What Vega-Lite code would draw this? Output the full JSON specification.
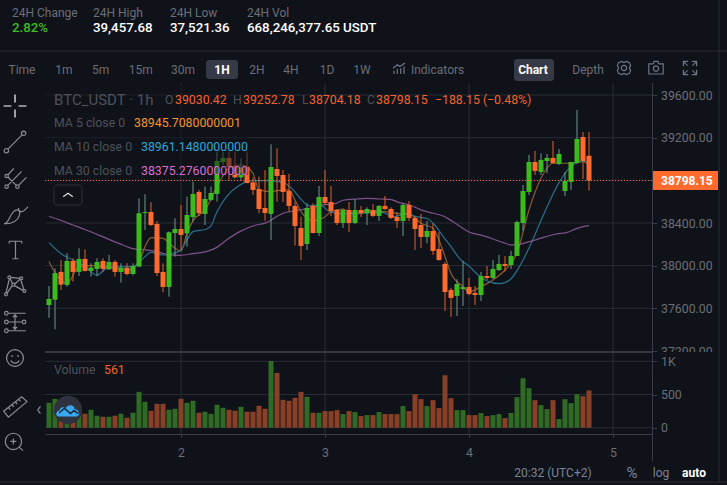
{
  "$schema": "https://vega.github.io/schema/vega-lite/v6.json",
  "width": 727,
  "height": 485,
  "padding": 0,
  "autosize": {"type": "none"},
  "background": "#0f1219",
  "config": {
    "view": {"stroke": null},
    "text": {"font": "Roboto"},
    "axis": {"labelFont": "Roboto", "labelFontSize": 12.3, "labelColor": "#6b6e78", "title": null, "grid": false, "labelOverlap": false, "labelBound": false, "labelFlush": false}
  },
  "datasets": {
    "candles": [
      {"hour":2,"dir":"up","open":37631,"close":37688,"high":37809,"low":37512,"volume":375},
      {"hour":3,"dir":"up","open":37681,"close":37931,"high":37975,"low":37403,"volume":435},
      {"hour":4,"dir":"down","open":37941,"close":37822,"high":38053,"low":37772,"volume":260},
      {"hour":5,"dir":"up","open":37819,"close":38044,"high":38116,"low":37803,"volume":280},
      {"hour":6,"dir":"down","open":38044,"close":37941,"high":38069,"low":37850,"volume":250},
      {"hour":7,"dir":"up","open":37941,"close":38063,"high":38163,"low":37903,"volume":240},
      {"hour":8,"dir":"down","open":38063,"close":37950,"high":38153,"low":37944,"volume":210},
      {"hour":9,"dir":"up","open":37950,"close":37981,"high":38022,"low":37897,"volume":270},
      {"hour":10,"dir":"up","open":37969,"close":38034,"high":38069,"low":37903,"volume":180},
      {"hour":11,"dir":"down","open":38044,"close":37969,"high":38069,"low":37944,"volume":165},
      {"hour":12,"dir":"up","open":37966,"close":38034,"high":38100,"low":37959,"volume":165},
      {"hour":13,"dir":"down","open":38034,"close":37941,"high":38053,"low":37897,"volume":180},
      {"hour":14,"dir":"up","open":37941,"close":37981,"high":38022,"low":37841,"volume":210},
      {"hour":15,"dir":"down","open":37981,"close":37922,"high":38022,"low":37909,"volume":150},
      {"hour":16,"dir":"up","open":37922,"close":37997,"high":38022,"low":37909,"volume":225},
      {"hour":17,"dir":"up","open":37991,"close":38491,"high":38631,"low":37991,"volume":540},
      {"hour":18,"dir":"up","open":38494,"close":38503,"high":38669,"low":38334,"volume":390},
      {"hour":19,"dir":"down","open":38503,"close":38381,"high":38597,"low":38372,"volume":255},
      {"hour":20,"dir":"down","open":38391,"close":37931,"high":38419,"low":37903,"volume":360},
      {"hour":21,"dir":"down","open":37941,"close":37800,"high":38022,"low":37750,"volume":360},
      {"hour":22,"dir":"up","open":37800,"close":38313,"high":38319,"low":37709,"volume":270},
      {"hour":23,"dir":"up","open":38306,"close":38344,"high":38444,"low":38084,"volume":285},
      {"hour":24,"dir":"down","open":38344,"close":38288,"high":38569,"low":38147,"volume":435},
      {"hour":25,"dir":"up","open":38303,"close":38475,"high":38647,"low":38178,"volume":375},
      {"hour":26,"dir":"up","open":38456,"close":38672,"high":38788,"low":38413,"volume":405},
      {"hour":27,"dir":"down","open":38691,"close":38491,"high":38710,"low":38466,"volume":225},
      {"hour":28,"dir":"up","open":38485,"close":38625,"high":38741,"low":38381,"volume":240},
      {"hour":29,"dir":"up","open":38616,"close":38681,"high":38741,"low":38606,"volume":210},
      {"hour":30,"dir":"up","open":38672,"close":38981,"high":39069,"low":38600,"volume":345},
      {"hour":31,"dir":"up","open":38972,"close":39010,"high":39069,"low":38944,"volume":300},
      {"hour":32,"dir":"down","open":39010,"close":38925,"high":39069,"low":38803,"volume":270},
      {"hour":33,"dir":"down","open":38935,"close":38828,"high":39069,"low":38819,"volume":255},
      {"hour":34,"dir":"up","open":38828,"close":38922,"high":39006,"low":38803,"volume":315},
      {"hour":35,"dir":"down","open":38928,"close":38775,"high":39069,"low":38772,"volume":240},
      {"hour":36,"dir":"down","open":38781,"close":38710,"high":38828,"low":38663,"volume":240},
      {"hour":37,"dir":"down","open":38719,"close":38531,"high":38835,"low":38491,"volume":330},
      {"hour":38,"dir":"down","open":38541,"close":38494,"high":38897,"low":38422,"volume":285},
      {"hour":39,"dir":"up","open":38485,"close":38925,"high":39138,"low":38241,"volume":1005},
      {"hour":40,"dir":"down","open":38906,"close":38841,"high":39100,"low":38600,"volume":825},
      {"hour":41,"dir":"down","open":38850,"close":38691,"high":38897,"low":38597,"volume":420},
      {"hour":42,"dir":"down","open":38700,"close":38560,"high":38860,"low":38506,"volume":405},
      {"hour":43,"dir":"down","open":38560,"close":38372,"high":38600,"low":38188,"volume":450},
      {"hour":44,"dir":"down","open":38353,"close":38184,"high":38459,"low":38053,"volume":540},
      {"hour":45,"dir":"up","open":38203,"close":38541,"high":38584,"low":38147,"volume":465},
      {"hour":46,"dir":"down","open":38560,"close":38306,"high":38584,"low":38303,"volume":225},
      {"hour":47,"dir":"up","open":38306,"close":38644,"high":38747,"low":38278,"volume":225},
      {"hour":48,"dir":"down","open":38644,"close":38588,"high":38897,"low":38569,"volume":250},
      {"hour":49,"dir":"down","open":38597,"close":38513,"high":38747,"low":38466,"volume":250},
      {"hour":50,"dir":"down","open":38522,"close":38400,"high":38528,"low":38381,"volume":265},
      {"hour":51,"dir":"up","open":38400,"close":38522,"high":38534,"low":38353,"volume":205},
      {"hour":52,"dir":"down","open":38522,"close":38400,"high":38597,"low":38316,"volume":250},
      {"hour":53,"dir":"up","open":38400,"close":38522,"high":38625,"low":38391,"volume":235},
      {"hour":54,"dir":"down","open":38522,"close":38491,"high":38560,"low":38456,"volume":175},
      {"hour":55,"dir":"up","open":38491,"close":38531,"high":38547,"low":38381,"volume":190},
      {"hour":56,"dir":"down","open":38522,"close":38466,"high":38578,"low":38456,"volume":190},
      {"hour":57,"dir":"up","open":38466,"close":38560,"high":38569,"low":38419,"volume":235},
      {"hour":58,"dir":"down","open":38560,"close":38531,"high":38653,"low":38522,"volume":205},
      {"hour":59,"dir":"down","open":38531,"close":38447,"high":38547,"low":38438,"volume":205},
      {"hour":60,"dir":"down","open":38456,"close":38419,"high":38503,"low":38353,"volume":205},
      {"hour":61,"dir":"up","open":38419,"close":38569,"high":38584,"low":38278,"volume":325},
      {"hour":62,"dir":"down","open":38569,"close":38447,"high":38606,"low":38419,"volume":250},
      {"hour":63,"dir":"down","open":38447,"close":38344,"high":38466,"low":38147,"volume":505},
      {"hour":64,"dir":"down","open":38381,"close":38269,"high":38485,"low":38166,"volume":430},
      {"hour":65,"dir":"up","open":38269,"close":38325,"high":38419,"low":38209,"volume":325},
      {"hour":66,"dir":"down","open":38325,"close":38138,"high":38397,"low":38100,"volume":415},
      {"hour":67,"dir":"down","open":38156,"close":38053,"high":38316,"low":38047,"volume":295},
      {"hour":68,"dir":"down","open":38016,"close":37753,"high":38034,"low":37575,"volume":790},
      {"hour":69,"dir":"down","open":37772,"close":37697,"high":37791,"low":37519,"volume":445},
      {"hour":70,"dir":"up","open":37716,"close":37828,"high":37872,"low":37528,"volume":265},
      {"hour":71,"dir":"up","open":37781,"close":37800,"high":38044,"low":37622,"volume":265},
      {"hour":72,"dir":"down","open":37800,"close":37734,"high":37884,"low":37722,"volume":190},
      {"hour":73,"dir":"down","open":37744,"close":37725,"high":37809,"low":37631,"volume":190},
      {"hour":74,"dir":"up","open":37725,"close":37903,"high":37941,"low":37669,"volume":220},
      {"hour":75,"dir":"down","open":37903,"close":37884,"high":37997,"low":37866,"volume":175},
      {"hour":76,"dir":"up","open":37884,"close":37969,"high":38053,"low":37875,"volume":190},
      {"hour":77,"dir":"up","open":37959,"close":38016,"high":38100,"low":37950,"volume":205},
      {"hour":78,"dir":"down","open":38016,"close":37997,"high":38091,"low":37944,"volume":145},
      {"hour":79,"dir":"up","open":38006,"close":38091,"high":38138,"low":37969,"volume":220},
      {"hour":80,"dir":"up","open":38091,"close":38409,"high":38422,"low":38091,"volume":460},
      {"hour":81,"dir":"up","open":38400,"close":38700,"high":38756,"low":38325,"volume":745},
      {"hour":82,"dir":"up","open":38691,"close":38972,"high":39038,"low":38663,"volume":595},
      {"hour":83,"dir":"down","open":38972,"close":38888,"high":39075,"low":38850,"volume":415},
      {"hour":84,"dir":"up","open":38878,"close":38991,"high":39053,"low":38850,"volume":340},
      {"hour":85,"dir":"up","open":38981,"close":39010,"high":39047,"low":38866,"volume":280},
      {"hour":86,"dir":"down","open":39010,"close":38963,"high":39169,"low":38953,"volume":415},
      {"hour":87,"dir":"up","open":38953,"close":39047,"high":39094,"low":38944,"volume":130},
      {"hour":88,"dir":"up","open":38700,"close":38794,"high":38878,"low":38653,"volume":430},
      {"hour":89,"dir":"up","open":38785,"close":38972,"high":38972,"low":38710,"volume":370},
      {"hour":90,"dir":"up","open":38963,"close":39188,"high":39460,"low":38953,"volume":505},
      {"hour":91,"dir":"down","open":39206,"close":38981,"high":39253,"low":38813,"volume":475},
      {"hour":92,"dir":"down","open":39030.42,"close":38798.15,"high":39252.78,"low":38704.18,"volume":561}
    ],
    "averages": [
      {"series":"MA 5","hour":2,"value":38038},{"series":"MA 5","hour":3,"value":37934},{"series":"MA 5","hour":5,"value":37834},{"series":"MA 5","hour":7,"value":37991},{"series":"MA 5","hour":9,"value":38000},{"series":"MA 5","hour":11,"value":37991},{"series":"MA 5","hour":13,"value":37975},{"series":"MA 5","hour":15,"value":37959},{"series":"MA 5","hour":17,"value":38038},{"series":"MA 5","hour":18,"value":38178},{"series":"MA 5","hour":19,"value":38263},{"series":"MA 5","hour":21,"value":38256},{"series":"MA 5","hour":23,"value":38163},{"series":"MA 5","hour":24,"value":38138},{"series":"MA 5","hour":25,"value":38303},{"series":"MA 5","hour":26,"value":38422},{"series":"MA 5","hour":28,"value":38522},{"series":"MA 5","hour":30,"value":38741},{"series":"MA 5","hour":32,"value":38913},{"series":"MA 5","hour":34,"value":38944},{"series":"MA 5","hour":36,"value":38866},{"series":"MA 5","hour":37,"value":38710},{"series":"MA 5","hour":39,"value":38694},{"series":"MA 5","hour":40,"value":38703},{"series":"MA 5","hour":42,"value":38710},{"series":"MA 5","hour":43,"value":38616},{"series":"MA 5","hour":44,"value":38506},{"series":"MA 5","hour":45,"value":38444},{"series":"MA 5","hour":46,"value":38422},{"series":"MA 5","hour":48,"value":38459},{"series":"MA 5","hour":49,"value":38506},{"series":"MA 5","hour":51,"value":38531},{"series":"MA 5","hour":53,"value":38485},{"series":"MA 5","hour":55,"value":38516},{"series":"MA 5","hour":58,"value":38506},{"series":"MA 5","hour":60,"value":38491},{"series":"MA 5","hour":62,"value":38485},{"series":"MA 5","hour":64,"value":38397},{"series":"MA 5","hour":66,"value":38350},{"series":"MA 5","hour":67,"value":38241},{"series":"MA 5","hour":68,"value":38084},{"series":"MA 5","hour":69,"value":37928},{"series":"MA 5","hour":71,"value":37803},{"series":"MA 5","hour":72,"value":37756},{"series":"MA 5","hour":74,"value":37803},{"series":"MA 5","hour":76,"value":37866},{"series":"MA 5","hour":78,"value":37959},{"series":"MA 5","hour":80,"value":38116},{"series":"MA 5","hour":82,"value":38522},{"series":"MA 5","hour":84,"value":38819},{"series":"MA 5","hour":86,"value":38960},{"series":"MA 5","hour":88,"value":38960},{"series":"MA 5","hour":90,"value":38966},{"series":"MA 5","hour":91,"value":38975},{"series":"MA 5","hour":92,"value":38945.71},
      {"series":"MA 10","hour":2,"value":38216},{"series":"MA 10","hour":4.1,"value":38109},{"series":"MA 10","hour":6,"value":38053},{"series":"MA 10","hour":8,"value":37991},{"series":"MA 10","hour":10,"value":37909},{"series":"MA 10","hour":11.6,"value":37975},{"series":"MA 10","hour":14,"value":37991},{"series":"MA 10","hour":16,"value":37991},{"series":"MA 10","hour":17.7,"value":38069},{"series":"MA 10","hour":19,"value":38125},{"series":"MA 10","hour":21,"value":38100},{"series":"MA 10","hour":22.7,"value":38116},{"series":"MA 10","hour":24,"value":38147},{"series":"MA 10","hour":25,"value":38241},{"series":"MA 10","hour":26,"value":38319},{"series":"MA 10","hour":28.2,"value":38341},{"series":"MA 10","hour":29,"value":38372},{"series":"MA 10","hour":30,"value":38506},{"series":"MA 10","hour":31.6,"value":38647},{"series":"MA 10","hour":33.8,"value":38756},{"series":"MA 10","hour":36,"value":38797},{"series":"MA 10","hour":38.2,"value":38797},{"series":"MA 10","hour":41,"value":38781},{"series":"MA 10","hour":42.7,"value":38710},{"series":"MA 10","hour":44.1,"value":38616},{"series":"MA 10","hour":45.4,"value":38560},{"series":"MA 10","hour":47.1,"value":38569},{"series":"MA 10","hour":48.8,"value":38506},{"series":"MA 10","hour":51,"value":38485},{"series":"MA 10","hour":53.2,"value":38485},{"series":"MA 10","hour":55.4,"value":38497},{"series":"MA 10","hour":57.7,"value":38497},{"series":"MA 10","hour":59.3,"value":38459},{"series":"MA 10","hour":61.6,"value":38485},{"series":"MA 10","hour":63.2,"value":38459},{"series":"MA 10","hour":64.9,"value":38444},{"series":"MA 10","hour":66.3,"value":38381},{"series":"MA 10","hour":67.7,"value":38272},{"series":"MA 10","hour":69,"value":38178},{"series":"MA 10","hour":70.4,"value":38069},{"series":"MA 10","hour":72.1,"value":37991},{"series":"MA 10","hour":73.2,"value":37928},{"series":"MA 10","hour":74.9,"value":37859},{"series":"MA 10","hour":77.1,"value":37831},{"series":"MA 10","hour":78.8,"value":37866},{"series":"MA 10","hour":80.4,"value":37991},{"series":"MA 10","hour":82.1,"value":38178},{"series":"MA 10","hour":83.8,"value":38397},{"series":"MA 10","hour":85.4,"value":38600},{"series":"MA 10","hour":87.1,"value":38788},{"series":"MA 10","hour":88.8,"value":38919},{"series":"MA 10","hour":89.9,"value":38966},{"series":"MA 10","hour":91,"value":38981},{"series":"MA 10","hour":92,"value":38961.15},
      {"series":"MA 30","hour":2,"value":38463},{"series":"MA 30","hour":3.8,"value":38428},{"series":"MA 30","hour":6,"value":38381},{"series":"MA 30","hour":8.2,"value":38334},{"series":"MA 30","hour":11.6,"value":38256},{"series":"MA 30","hour":14.3,"value":38194},{"series":"MA 30","hour":16,"value":38159},{"series":"MA 30","hour":18.2,"value":38147},{"series":"MA 30","hour":20,"value":38131},{"series":"MA 30","hour":21.6,"value":38106},{"series":"MA 30","hour":23.8,"value":38097},{"series":"MA 30","hour":26,"value":38113},{"series":"MA 30","hour":28.2,"value":38131},{"series":"MA 30","hour":29.9,"value":38169},{"series":"MA 30","hour":31.6,"value":38241},{"series":"MA 30","hour":33.8,"value":38319},{"series":"MA 30","hour":36,"value":38372},{"series":"MA 30","hour":38.2,"value":38403},{"series":"MA 30","hour":41,"value":38491},{"series":"MA 30","hour":43.2,"value":38516},{"series":"MA 30","hour":45.4,"value":38538},{"series":"MA 30","hour":47.7,"value":38569},{"series":"MA 30","hour":49.9,"value":38584},{"series":"MA 30","hour":51,"value":38613},{"series":"MA 30","hour":53.2,"value":38625},{"series":"MA 30","hour":54.9,"value":38631},{"series":"MA 30","hour":57.1,"value":38625},{"series":"MA 30","hour":58.8,"value":38622},{"series":"MA 30","hour":60.4,"value":38591},{"series":"MA 30","hour":62.1,"value":38569},{"series":"MA 30","hour":63.8,"value":38528},{"series":"MA 30","hour":65.4,"value":38500},{"series":"MA 30","hour":67.7,"value":38466},{"series":"MA 30","hour":69.3,"value":38413},{"series":"MA 30","hour":72.1,"value":38313},{"series":"MA 30","hour":74.3,"value":38281},{"series":"MA 30","hour":76,"value":38250},{"series":"MA 30","hour":77.7,"value":38216},{"series":"MA 30","hour":79.1,"value":38194},{"series":"MA 30","hour":80.4,"value":38200},{"series":"MA 30","hour":82.1,"value":38225},{"series":"MA 30","hour":84.3,"value":38263},{"series":"MA 30","hour":86.6,"value":38297},{"series":"MA 30","hour":88.2,"value":38309},{"series":"MA 30","hour":89.9,"value":38347},{"series":"MA 30","hour":91,"value":38366},{"series":"MA 30","hour":92,"value":38375.28}
    ]
  },
  "resolve": {"scale": {"x": "independent", "y": "independent", "color": "independent", "shape": "independent"}, "axis": {"x": "independent", "y": "independent"}},
  "layer": [
    {
      "data": {"values": [{"tick": 39600}, {"tick": 37200}]},
      "mark": {"type": "rule", "opacity": 0},
      "encoding": {
        "y": {"field": "tick", "type": "quantitative", "scale": {"domain": [37200, 39600], "range": [351, 95], "nice": false, "zero": false}, "axis": {"orient": "right", "offset": -74.5, "values": [39600, 39200, 38400, 38000, 37600, 37200], "format": ".2f", "domain": false, "tickColor": "#3a3d47", "tickSize": 4, "labelPadding": 4}}
      }
    },
    {
      "data": {"values": [{"tick": 24}, {"tick": 96}]},
      "mark": {"type": "rule", "opacity": 0},
      "encoding": {
        "x": {"field": "tick", "type": "quantitative", "scale": {"domain": [1.333, 102.5], "range": [45, 652], "nice": false, "zero": false}, "axis": {"orient": "bottom", "offset": -51, "values": [24, 48, 72, 96], "labelExpr": "datum.value / 24 + 1", "domainColor": "#3a3d47", "tickColor": "#3a3d47", "tickSize": 3, "labelPadding": 9}}
      }
    },
    {
      "data": {"values": [{"tick": 0}, {"tick": 1000}]},
      "mark": {"type": "rule", "opacity": 0},
      "encoding": {
        "y": {"field": "tick", "type": "quantitative", "scale": {"domain": [0, 1000], "range": [427.7, 361.3], "nice": false}, "axis": {"orient": "right", "offset": -74.5, "values": [0, 500, 1000], "labelExpr": "datum.value >= 1000 ? '1K' : datum.value", "domain": false, "tickColor": "#3a3d47", "tickSize": 4, "labelPadding": 4, "zindex": 1}}
      }
    },
    {
      "data": {"name": "candles"},
      "resolve": {"scale": {"color": "independent"}},
      "layer": [
        {
          "data": {"values": [{"tick": 39600}, {"tick": 39200}, {"tick": 38800}, {"tick": 38400}, {"tick": 38000}, {"tick": 37600}]},
          "mark": {"type": "rule", "stroke": "#292c35", "strokeWidth": 1},
          "encoding": {
            "x": {"datum": 1.333, "axis": null},
            "x2": {"datum": 102.5},
            "y": {"field": "tick", "type": "quantitative", "scale": {"domain": [37600, 39600], "range": [308.3, 95], "nice": false, "zero": false}, "axis": null}
          }
        },
        {
          "data": {"values": [{"day": 24}, {"day": 48}, {"day": 72}, {"day": 96}]},
          "mark": {"type": "rule", "stroke": "#292c35", "strokeWidth": 1},
          "encoding": {
            "x": {"field": "day", "type": "quantitative", "scale": {"domain": [1.333, 102.5], "range": [45, 652], "nice": false, "zero": false, "padding": 0}, "axis": null},
            "y": {"datum": 39712, "axis": null},
            "y2": {"datum": 36421}
          }
        },
        {
          "data": {"values": [{}]},
          "mark": {"type": "rule", "stroke": "#3a3d47", "strokeWidth": 1},
          "encoding": {"x": {"datum": 102.58, "axis": null}, "y": {"datum": 39712, "axis": null}, "y2": {"datum": 36169}}
        },
        {
          "data": {"values": [{}]},
          "mark": {"type": "rule", "stroke": "#292c35", "strokeWidth": 1},
          "encoding": {"x": {"datum": 113.67, "axis": null}, "y": {"datum": 40491, "axis": null}, "y2": {"datum": 35971}}
        },
        {
          "data": {"values": [{}]},
          "mark": {"type": "rule", "stroke": "#292c35", "strokeWidth": 1},
          "encoding": {"x": {"datum": -6.17, "axis": null}, "x2": {"datum": 115}, "y": {"datum": 40012, "axis": null}}
        },
        {
          "data": {"values": [{}]},
          "mark": {"type": "rule", "stroke": "#292c35", "strokeWidth": 1},
          "encoding": {"x": {"datum": -6.17, "axis": null}, "x2": {"datum": 115}, "y": {"datum": 35971, "axis": null}}
        },
        {
          "data": {"values": [{}]},
          "mark": {"type": "rect", "fill": "#0f1219"},
          "encoding": {"x": {"datum": 102.67, "axis": null}, "x2": {"datum": 113.5}, "y": {"datum": 37190, "axis": null}, "y2": {"datum": 36990}}
        },
        {
          "data": {"values": [{}]},
          "mark": {"type": "rule", "stroke": "#343741", "strokeWidth": 2},
          "encoding": {"x": {"datum": 1.333, "axis": null}, "x2": {"datum": 102.58}, "y": {"datum": 37190, "axis": null}}
        },
        {
          "data": {"values": [{}]},
          "mark": {"type": "rect", "fill": "#363a47", "cornerRadius": 3},
          "encoding": {"x": {"datum": 28.17, "axis": null}, "x2": {"datum": 33.5}, "y": {"datum": 39928, "axis": null}, "y2": {"datum": 39750}}
        },
        {
          "data": {"values": [{}]},
          "mark": {"type": "rect", "fill": "#363a47", "cornerRadius": 3},
          "encoding": {"x": {"datum": 79.5, "axis": null}, "x2": {"datum": 86.17}, "y": {"datum": 39937, "axis": null}, "y2": {"datum": 39731}}
        },
        {
          "data": {"name": "averages"},
          "mark": {"type": "line", "interpolate": "monotone", "strokeWidth": 1.2},
          "encoding": {
            "x": {"field": "hour", "type": "quantitative", "axis": null},
            "y": {"field": "value", "type": "quantitative", "axis": null},
            "color": {"field": "series", "type": "nominal", "legend": null, "scale": {"domain": ["MA 5", "MA 10", "MA 30"], "range": ["#8c5c30", "#28708c", "#7f5288"]}}
          }
        },
        {
          "mark": {"type": "rule", "strokeWidth": 1},
          "encoding": {
            "x": {"field": "hour", "type": "quantitative", "axis": null},
            "y": {"field": "low", "type": "quantitative", "axis": null},
            "y2": {"field": "high"},
            "color": {"field": "dir", "type": "nominal", "legend": null, "scale": {"domain": ["up", "down"], "range": ["#6f9a86", "#e2602c"]}}
          }
        },
        {
          "mark": {"type": "bar", "size": 5},
          "encoding": {
            "x": {"field": "hour", "type": "quantitative", "axis": null},
            "y": {"field": "open", "type": "quantitative", "stack": null, "axis": null},
            "y2": {"field": "close"},
            "color": {"field": "dir", "type": "nominal", "legend": null, "scale": {"domain": ["up", "down"], "range": ["#3dba1f", "#ff6a2f"]}}
          }
        },
        {
          "data": {"values": [{}]},
          "mark": {"type": "rect", "fill": "#0f1219", "opacity": 0.5},
          "encoding": {"x": {"datum": 1.333, "axis": null}, "x2": {"datum": 35.2}, "y": {"datum": 39693, "axis": null}, "y2": {"datum": 38850}}
        },
        {
          "data": {"values": [{}]},
          "mark": {"type": "rect", "fill": null, "stroke": "#2c2f38", "cornerRadius": 3},
          "encoding": {"x": {"datum": 2.83, "axis": null}, "x2": {"datum": 7.5}, "y": {"datum": 38756, "axis": null}, "y2": {"datum": 38569}}
        },
        {
          "data": {"values": [{}]},
          "mark": {"type": "rule", "stroke": "#ff6a2f", "strokeDash": [1, 2], "strokeWidth": 1},
          "encoding": {"x": {"datum": 1.333, "axis": null}, "x2": {"datum": 102.5}, "y": {"datum": 38798.15, "axis": null}}
        },
        {
          "data": {"values": [{}]},
          "mark": {"type": "rect", "fill": "#ff6a2f"},
          "encoding": {"x": {"datum": 102.67, "axis": null}, "x2": {"datum": 113.5}, "y": {"datum": 38887, "axis": null}, "y2": {"datum": 38709}}
        },
        {
          "data": {"values": [{"last": 38798.15}]},
          "mark": {"type": "text", "align": "left", "baseline": "middle", "color": "#ffffff", "fontWeight": "bold", "fontSize": 12},
          "encoding": {
            "x": {"datum": 104, "axis": null},
            "y": {"field": "last", "type": "quantitative", "axis": null},
            "text": {"field": "last", "type": "quantitative", "format": ".2f"}
          }
        }
      ]
    },
    {
      "data": {"name": "candles"},
      "layer": [
        {
          "data": {"values": [{"level": 0}, {"level": 500}, {"level": 1000}]},
          "mark": {"type": "rule", "stroke": "#292c35", "strokeWidth": 1},
          "encoding": {
            "x": {"datum": 1.333, "axis": null, "scale": {"domain": [1.333, 102.5], "range": [45, 652], "nice": false, "zero": false, "padding": 0}},
            "x2": {"datum": 102.5},
            "y": {"field": "level", "type": "quantitative", "scale": {"domain": [0, 1000], "range": [427.7, 361.3], "nice": false}, "axis": null}
          }
        },
        {
          "mark": {"type": "bar", "size": 5},
          "encoding": {
            "x": {"field": "hour", "type": "quantitative", "axis": null},
            "y": {"field": "volume", "type": "quantitative", "stack": null, "axis": null},
            "color": {"field": "dir", "type": "nominal", "legend": null, "scale": {"domain": ["up", "down"], "range": ["#2f6b24", "#8a4027"]}}
          }
        },
        {
          "data": {"values": [{}]},
          "mark": {"type": "point", "shape": "circle", "size": 804, "filled": true, "fill": "#2e323c", "opacity": 1},
          "encoding": {"x": {"datum": 5.17, "axis": null}, "y": {"datum": 267, "axis": null}}
        },
        {
          "data": {"values": [{}]},
          "mark": {"type": "point", "shape": "M-0.8,0.55C-1.05,0.55 -1.05,0.05 -0.7,0.05C-0.7,-0.25 -0.3,-0.3 -0.2,-0.1C-0.1,-0.5 0.55,-0.5 0.55,-0.05C0.95,-0.1 1.05,0.55 0.7,0.55Z", "size": 576, "filled": true, "fill": "#36a9f2", "opacity": 1},
          "encoding": {"x": {"datum": 5.17, "axis": null}, "y": {"datum": 267, "axis": null}}
        },
        {
          "data": {"values": [{}]},
          "mark": {"type": "point", "shape": "M-0.75,0.25L-0.3,-0.15L0.2,0.3L0.5,0.05L0.85,0.3", "size": 576, "filled": false, "stroke": "#1f2530", "strokeWidth": 1.5, "opacity": 1},
          "encoding": {"x": {"datum": 5.17, "axis": null}, "y": {"datum": 267, "axis": null}}
        }
      ]
    },
    {
      "data": {"values": [
        {"label": "24H Change", "col": 0, "row": 0},
        {"label": "24H High", "col": 1, "row": 0},
        {"label": "24H Low", "col": 2, "row": 0},
        {"label": "24H Vol", "col": 3, "row": 0}
      ]},
      "mark": {"type": "text", "align": "left", "baseline": "middle", "fontSize": 12, "color": "#6b6e78"},
      "encoding": {
        "x": {"field": "col", "type": "quantitative", "axis": null, "scale": {"domain": [0, 1, 2, 3], "range": [12, 93, 170, 247]}},
        "y": {"field": "row", "type": "quantitative", "axis": null, "scale": {"domain": [0, 1], "range": [12.5, 27.5]}},
        "text": {"field": "label"}
      }
    },
    {
      "data": {"values": [
        {"label": "2.82%", "col": 0, "row": 1, "tone": "gain"},
        {"label": "39,457.68", "col": 1, "row": 1, "tone": "plain"},
        {"label": "37,521.36", "col": 2, "row": 1, "tone": "plain"},
        {"label": "668,246,377.65 USDT", "col": 3, "row": 1, "tone": "plain"}
      ]},
      "mark": {"type": "text", "align": "left", "baseline": "middle", "fontSize": 13.3, "fontWeight": 500},
      "encoding": {
        "x": {"field": "col", "type": "quantitative", "axis": null, "scale": {"domain": [0, 1, 2, 3], "range": [12, 93, 170, 247]}},
        "y": {"field": "row", "type": "quantitative", "axis": null, "scale": {"domain": [0, 1], "range": [12.5, 27.5]}},
        "color": {"field": "tone", "type": "nominal", "legend": null, "scale": {"domain": ["gain", "plain"], "range": ["#3dba1f", "#ffffff"]}},
        "text": {"field": "label"}
      }
    },
    {
      "data": {"values": [
        {"label": "Time", "col": 0, "row": 0}, {"label": "1m", "col": 1, "row": 0}, {"label": "5m", "col": 2, "row": 0}, {"label": "15m", "col": 3, "row": 0}, {"label": "30m", "col": 4, "row": 0},
        {"label": "2H", "col": 5, "row": 0}, {"label": "4H", "col": 6, "row": 0}, {"label": "1D", "col": 7, "row": 0}, {"label": "1W", "col": 8, "row": 0}, {"label": "Indicators", "col": 9, "row": 0}, {"label": "Depth", "col": 10, "row": 0}
      ]},
      "mark": {"type": "text", "align": "center", "baseline": "middle", "fontSize": 12, "color": "#6b6e78"},
      "encoding": {
        "x": {"field": "col", "type": "quantitative", "axis": null, "scale": {"domain": [0, 1, 2, 3, 4, 5, 6, 7, 8, 9, 10], "range": [22, 64, 100.6, 140.7, 183, 257, 291, 327, 362, 437.6, 588]}},
        "y": {"field": "row", "type": "quantitative", "axis": null, "scale": {"domain": [0, 1], "range": [70, 71]}},
        "text": {"field": "label"}
      }
    },
    {
      "data": {"values": [{"label": "1H", "col": 0, "row": 0}, {"label": "Chart", "col": 1, "row": 0}]},
      "mark": {"type": "text", "align": "center", "baseline": "middle", "fontSize": 12, "fontWeight": "bold", "color": "#ffffff"},
      "encoding": {
        "x": {"field": "col", "type": "quantitative", "axis": null, "scale": {"domain": [0, 1], "range": [222, 533]}},
        "y": {"field": "row", "type": "quantitative", "axis": null, "scale": {"domain": [0, 1], "range": [70, 71]}},
        "text": {"field": "label"}
      }
    },
    {
      "data": {"values": [{"label": "BTC_USDT · 1h", "col": 0, "row": 0}]},
      "mark": {"type": "text", "align": "left", "baseline": "middle", "fontSize": 15, "color": "#4e515b"},
      "encoding": {
        "x": {"field": "col", "type": "quantitative", "axis": null, "scale": {"domain": [0, 1], "range": [54, 55]}},
        "y": {"field": "row", "type": "quantitative", "axis": null, "scale": {"domain": [0, 1], "range": [100, 101]}},
        "text": {"field": "label"}
      }
    },
    {
      "data": {"values": [
        {"label": "O", "col": 1, "row": 0, "tone": "dim"}, {"label": "39030.42", "col": 2, "row": 0, "tone": "down"},
        {"label": "H", "col": 3, "row": 0, "tone": "dim"}, {"label": "39252.78", "col": 4, "row": 0, "tone": "down"},
        {"label": "L", "col": 5, "row": 0, "tone": "dim"}, {"label": "38704.18", "col": 6, "row": 0, "tone": "down"},
        {"label": "C", "col": 7, "row": 0, "tone": "dim"}, {"label": "38798.15", "col": 8, "row": 0, "tone": "down"},
        {"label": "−188.15 (−0.48%)", "col": 9, "row": 0, "tone": "down"},
        {"label": "MA 5 close 0", "col": 0, "row": 1, "tone": "dim"}, {"label": "38945.7080000001", "col": 10, "row": 1, "tone": "ma5"},
        {"label": "MA 10 close 0", "col": 0, "row": 2, "tone": "dim"}, {"label": "38961.1480000000", "col": 11, "row": 2, "tone": "ma10"},
        {"label": "MA 30 close 0", "col": 0, "row": 3, "tone": "dim"}, {"label": "38375.2760000000", "col": 11, "row": 3, "tone": "ma30"},
        {"label": "Volume", "col": 0, "row": 4, "tone": "dim"}, {"label": "561", "col": 12, "row": 4, "tone": "down"}
      ]},
      "mark": {"type": "text", "align": "left", "baseline": "middle", "fontSize": 12.3},
      "encoding": {
        "x": {"field": "col", "type": "quantitative", "axis": null, "scale": {"domain": [0, 1, 2, 3, 4, 5, 6, 7, 8, 9, 10, 11, 12], "range": [54, 165, 175, 233, 243, 302, 309, 367, 376, 435, 134, 141, 104]}},
        "y": {"field": "row", "type": "quantitative", "axis": null, "scale": {"domain": [0, 1, 2, 3, 4], "range": [100, 123, 147, 171, 370]}},
        "color": {"field": "tone", "type": "nominal", "legend": null, "scale": {"domain": ["dim", "down", "ma5", "ma10", "ma30"], "range": ["#4e515b", "#f5622d", "#f2952c", "#2aa7d8", "#d96fcf"]}},
        "text": {"field": "label"}
      }
    },
    {
      "data": {"values": [{"label": "20:32 (UTC+2)", "col": 0, "row": 0}, {"label": "log", "col": 1, "row": 0}]},
      "mark": {"type": "text", "align": "center", "baseline": "middle", "fontSize": 12, "color": "#7b8496"},
      "encoding": {
        "x": {"field": "col", "type": "quantitative", "axis": null, "scale": {"domain": [0, 1], "range": [553, 661]}},
        "y": {"field": "row", "type": "quantitative", "axis": null, "scale": {"domain": [0, 1], "range": [473, 474]}},
        "text": {"field": "label"}
      }
    },
    {
      "data": {"values": [{"label": "%", "col": 0, "row": 0}]},
      "mark": {"type": "text", "align": "center", "baseline": "middle", "fontSize": 15, "color": "#7b8496"},
      "encoding": {
        "x": {"field": "col", "type": "quantitative", "axis": null, "scale": {"domain": [0, 1], "range": [632, 633]}},
        "y": {"field": "row", "type": "quantitative", "axis": null, "scale": {"domain": [0, 1], "range": [473, 474]}},
        "text": {"field": "label"}
      }
    },
    {
      "data": {"values": [{"label": "auto", "col": 0, "row": 0}]},
      "mark": {"type": "text", "align": "center", "baseline": "middle", "fontSize": 12, "fontWeight": "bold", "color": "#ffffff"},
      "encoding": {
        "x": {"field": "col", "type": "quantitative", "axis": null, "scale": {"domain": [0, 1], "range": [694, 695]}},
        "y": {"field": "row", "type": "quantitative", "axis": null, "scale": {"domain": [0, 1], "range": [473, 474]}},
        "text": {"field": "label"}
      }
    },
    {
      "data": {"values": [
        {"icon": "crosshair", "slot": 0}, {"icon": "line", "slot": 1}, {"icon": "fork", "slot": 2}, {"icon": "brush", "slot": 3},
        {"icon": "text", "slot": 4}, {"icon": "pattern", "slot": 5}, {"icon": "levels", "slot": 6}, {"icon": "smile", "slot": 7},
        {"icon": "ruler", "slot": 8}, {"icon": "zoom", "slot": 9}, {"icon": "collapse", "slot": 10}, {"icon": "up", "slot": 11},
        {"icon": "indicators", "slot": 12}, {"icon": "gear", "slot": 13}, {"icon": "camera", "slot": 14}, {"icon": "expand", "slot": 15}
      ]},
      "mark": {"type": "point", "size": 576, "filled": false, "strokeWidth": 1.2, "opacity": 1},
      "encoding": {
        "x": {"field": "slot", "type": "quantitative", "axis": null, "scale": {"domain": [0, 1, 2, 3, 4, 5, 6, 7, 8, 9, 10, 11, 12, 13, 14, 15], "range": [15, 15, 15, 16, 15.5, 15, 15, 15, 15, 14, 39, 68, 399, 624, 656, 690]}},
        "y": {"field": "slot", "type": "quantitative", "axis": null, "scale": {"domain": [0, 1, 2, 3, 4, 5, 6, 7, 8, 9, 10, 11, 12, 13, 14, 15], "range": [106, 142, 178, 214, 250, 285, 322, 358, 407, 442, 410, 195, 69, 68, 68, 68]}},
        "shape": {"field": "icon", "type": "nominal", "legend": null, "scale": {
          "domain": ["crosshair", "line", "fork", "brush", "text", "pattern", "levels", "smile", "ruler", "zoom", "collapse", "up", "indicators", "gear", "camera", "expand"],
          "range": [
            "M0,-0.95L0,-0.3M0,0.3L0,0.95M-0.95,0L-0.3,0M0.3,0L0.95,0",
            "M-0.59,0.59L0.59,-0.59M-0.54,0.72A0.18,0.18 0 1 1 -0.9,0.72A0.18,0.18 0 1 1 -0.54,0.72M0.9,-0.72A0.18,0.18 0 1 1 0.54,-0.72A0.18,0.18 0 1 1 0.9,-0.72",
            "M-0.6,-0.25L-0.1,-0.8M-0.58,0.6L0.55,-0.55M0.3,0.62L0.95,-0.05M-0.6,-0.08L0.08,0.6M-0.56,-0.17A0.14,0.14 0 1 1 -0.84,-0.17A0.14,0.14 0 1 1 -0.56,-0.17M-0.56,0.72A0.14,0.14 0 1 1 -0.84,0.72A0.14,0.14 0 1 1 -0.56,0.72M0.34,0.72A0.14,0.14 0 1 1 0.06,0.72A0.14,0.14 0 1 1 0.34,0.72",
            "M-1,0.8C-0.6,0.8 -0.6,0.2 -0.2,-0.2C0.1,-0.5 0.4,-0.3 0.3,0C0.2,0.6 -0.4,0.85 -1,0.8M0.2,-0.5C0.2,-0.2 0.5,-0.1 0.7,-0.3L1,-0.6",
            "M-0.53,-0.73L0.53,-0.73M-0.53,-0.73L-0.53,-0.55M0.53,-0.73L0.53,-0.55M0,-0.73L0,0.73M-0.25,0.73L0.25,0.73",
            "M-0.47,-0.52L-0.75,0.66M-0.4,-0.55L-0.2,-0.1M-0.35,-0.64L0.4,-0.56M0.48,-0.44L0.74,0.38M0.42,-0.48L-0.02,-0.08M-0.05,0.05L0.68,0.45M-0.25,0.08L-0.66,0.68M-0.35,-0.64A0.12,0.12 0 1 1 -0.59,-0.64A0.12,0.12 0 1 1 -0.35,-0.64M0.64,-0.56A0.12,0.12 0 1 1 0.4,-0.56A0.12,0.12 0 1 1 0.64,-0.56M-0.63,0.78A0.12,0.12 0 1 1 -0.87,0.78A0.12,0.12 0 1 1 -0.63,0.78M0.9,0.5A0.12,0.12 0 1 1 0.66,0.5A0.12,0.12 0 1 1 0.9,0.5M-0.02,-0.03A0.12,0.12 0 1 1 -0.26,-0.03A0.12,0.12 0 1 1 -0.02,-0.03",
            "M-0.55,-0.73L0.9,-0.73M-0.55,0L0.6,0M-0.55,0.73L0.9,0.73M0,-0.6L0,0.6M-0.17,-0.4L0,-0.6L0.17,-0.4M-0.17,0.4L0,0.6L0.17,0.4M-0.57,-0.73A0.15,0.15 0 1 1 -0.87,-0.73A0.15,0.15 0 1 1 -0.57,-0.73M-0.57,0A0.15,0.15 0 1 1 -0.87,0A0.15,0.15 0 1 1 -0.57,0M0.9,0A0.15,0.15 0 1 1 0.6,0A0.15,0.15 0 1 1 0.9,0M-0.57,0.73A0.15,0.15 0 1 1 -0.87,0.73A0.15,0.15 0 1 1 -0.57,0.73",
            "M0.7,0A0.7,0.7 0 1 1 -0.7,0A0.7,0.7 0 1 1 0.7,0M-0.25,-0.25L-0.25,-0.08M0.25,-0.25L0.25,-0.08M-0.35,0.2C-0.2,0.5 0.2,0.5 0.35,0.2",
            "M-0.95,0.35L0.55,-0.85L1,-0.45L-0.55,0.85ZM-0.55,0.03L-0.4,0.22M-0.25,-0.2L-0.1,-0.02M0.03,-0.43L0.18,-0.25M0.3,-0.65L0.45,-0.47",
            "M0.63,-0.05A0.68,0.68 0 1 1 -0.73,-0.05A0.68,0.68 0 1 1 0.63,-0.05M0.45,0.45L0.75,0.72M-0.3,-0.05L0.2,-0.05M-0.05,-0.3L-0.05,0.2",
            "M0.12,-0.3L-0.1,0L0.12,0.3",
            "M-0.4,0.15L0,-0.15L0.4,0.15",
            "M-0.42,0.42L-0.42,0.14M-0.14,0.42L-0.14,0M0.14,0.42L0.14,-0.07M0.42,0.42L0.42,-0.21M-0.5,-0.07L-0.14,-0.35L0.07,-0.21L0.5,-0.5",
            "M0.22,0A0.22,0.22 0 1 1 -0.22,0A0.22,0.22 0 1 1 0.22,0M0.2,-0.55L0.45,-0.45L0.55,-0.2L0.45,0L0.55,0.2L0.45,0.45L0.2,0.55L0,0.45L-0.2,0.55L-0.45,0.45L-0.55,0.2L-0.45,0L-0.55,-0.2L-0.45,-0.45L-0.2,-0.55L0,-0.45Z",
            "M-0.6,-0.35L-0.25,-0.35L-0.15,-0.55L0.15,-0.55L0.25,-0.35L0.6,-0.35L0.6,0.5L-0.6,0.5ZM0.22,0.05A0.22,0.22 0 1 1 -0.22,0.05A0.22,0.22 0 1 1 0.22,0.05",
            "M-0.15,-0.55L-0.55,-0.55L-0.55,-0.15M-0.55,-0.55L-0.2,-0.2M0.15,-0.55L0.55,-0.55L0.55,-0.15M0.55,-0.55L0.2,-0.2M-0.15,0.55L-0.55,0.55L-0.55,0.15M-0.55,0.55L-0.2,0.2M0.15,0.55L0.55,0.55L0.55,0.15M0.55,0.55L0.2,0.2"
          ]
        }},
        "color": {"field": "icon", "type": "nominal", "legend": null, "scale": {
          "domain": ["crosshair", "up", "line", "fork", "brush", "text", "pattern", "levels", "smile", "ruler", "zoom", "collapse", "indicators", "gear", "camera", "expand"],
          "range": ["#ffffff", "#dddddd", "#8b8e96", "#8b8e96", "#8b8e96", "#8b8e96", "#8b8e96", "#8b8e96", "#8b8e96", "#8b8e96", "#8b8e96", "#8b8e96", "#6d7585", "#6d7585", "#6d7585", "#6d7585"]
        }}
      }
    }
  ]
}
